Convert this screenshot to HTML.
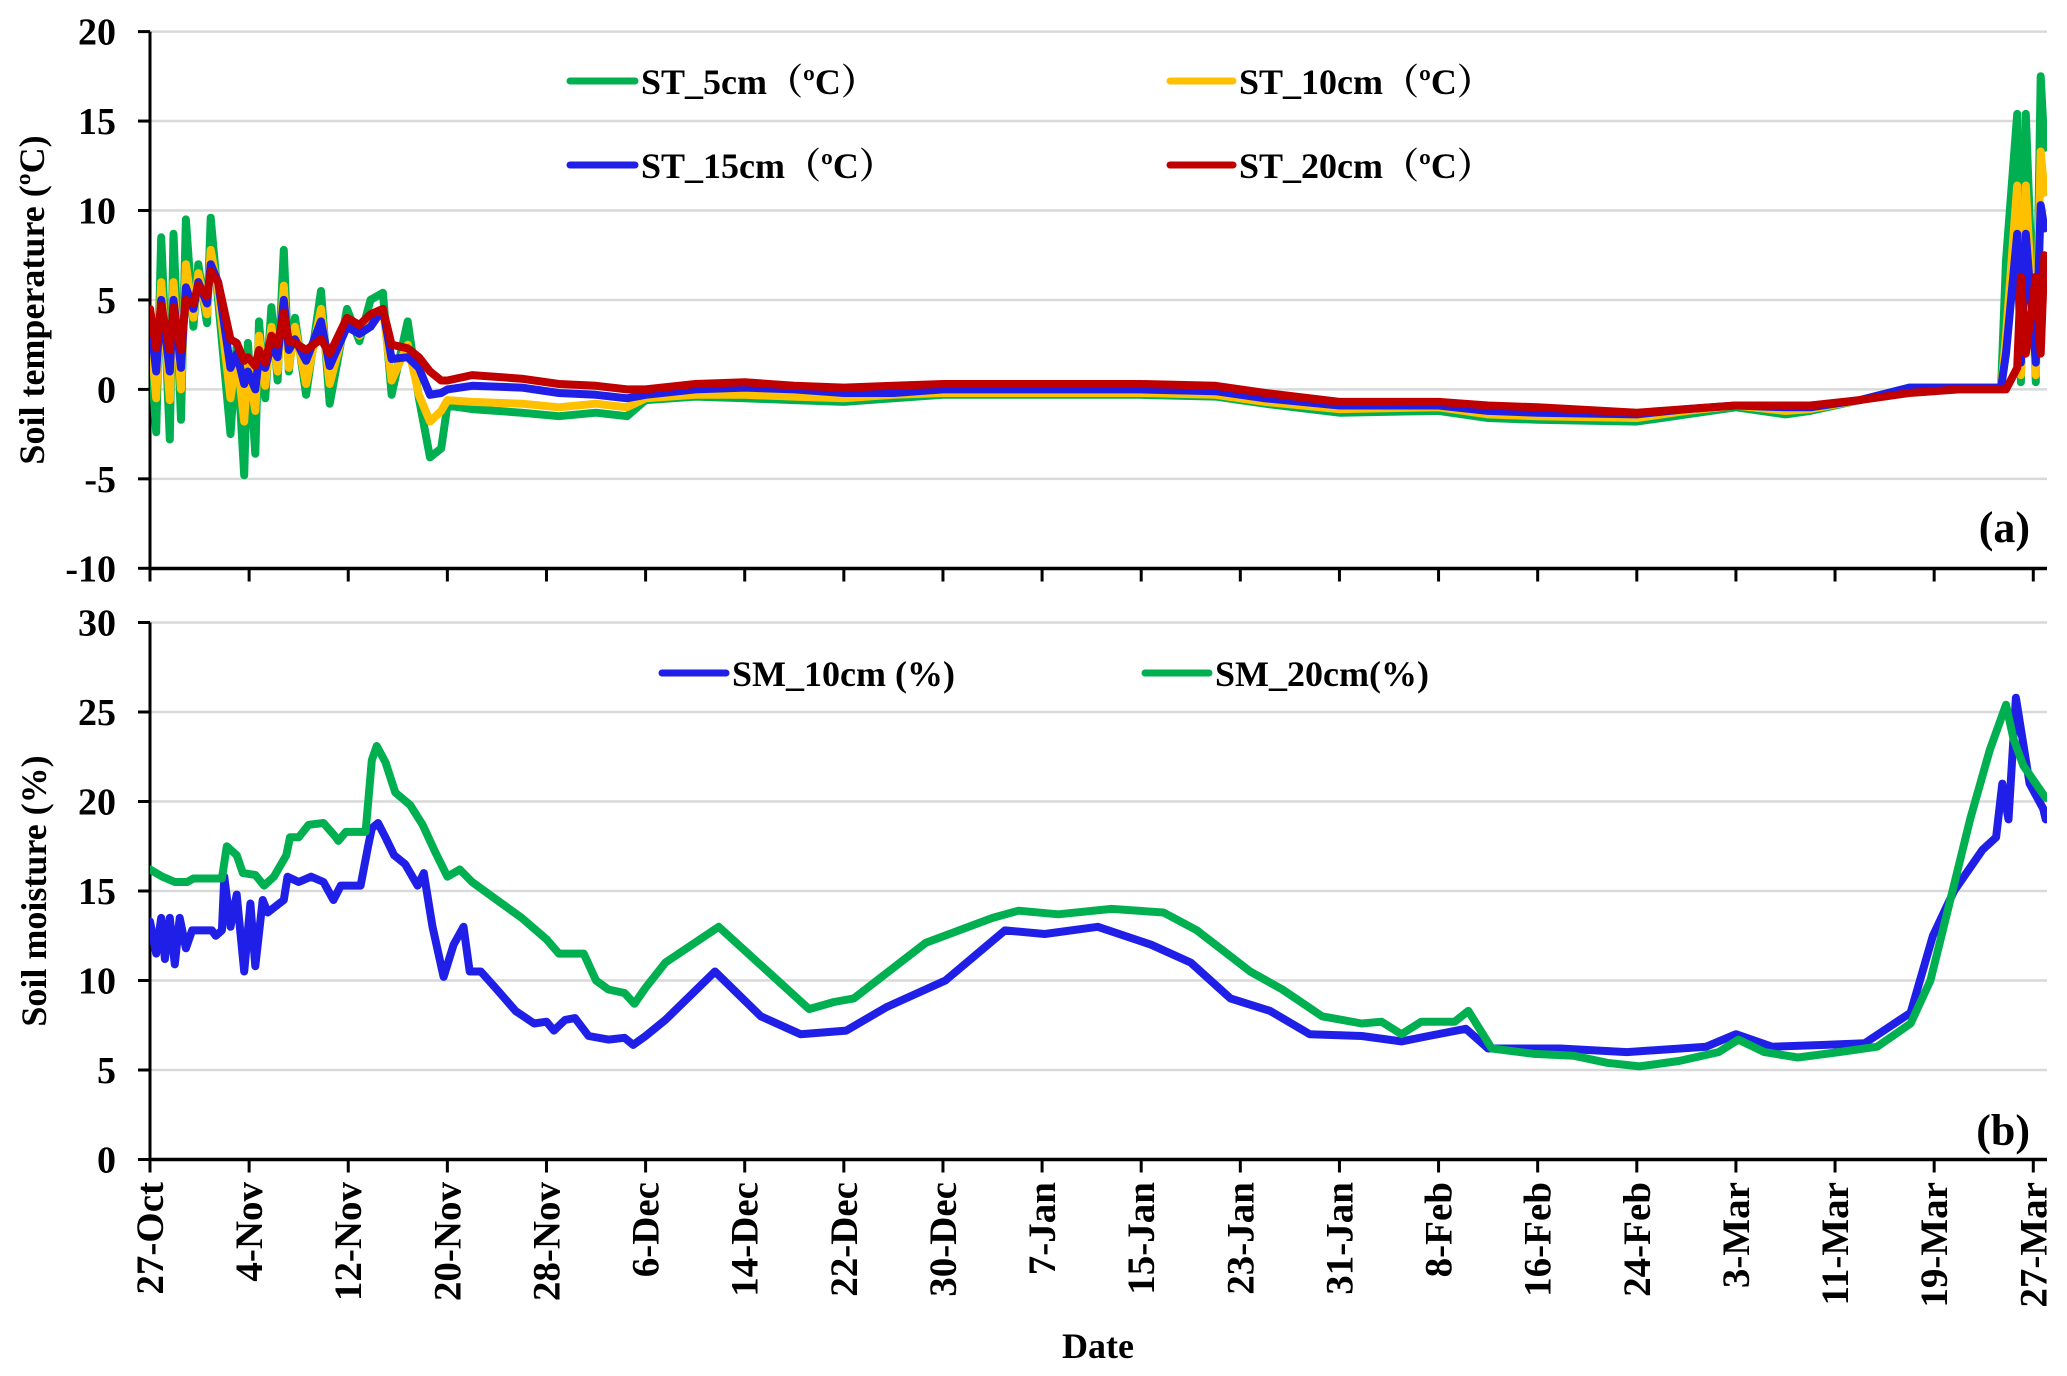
<!DOCTYPE html>
<html><head><meta charset="utf-8">
<style>
html,body{margin:0;padding:0;background:#fff;}
svg{display:block;font-family:"Liberation Serif","Noto Serif CJK SC",serif;font-weight:bold;}
</style></head>
<body>
<svg id="chart" width="2067" height="1376" viewBox="0 0 2067 1376" xmlns="http://www.w3.org/2000/svg">
<defs>
<clipPath id="clipA"><rect x="150" y="20" width="1897" height="549"/></clipPath>
<clipPath id="clipB"><rect x="150" y="600" width="1897" height="560"/></clipPath>
</defs>
<g id="gA"></g>
<g id="gB"></g>
</svg>
<script>
const tickLabels = ["27-Oct","4-Nov","12-Nov","20-Nov","28-Nov","6-Dec","14-Dec","22-Dec","30-Dec","7-Jan","15-Jan","23-Jan","31-Jan","8-Feb","16-Feb","24-Feb","3-Mar","11-Mar","19-Mar","27-Mar"];
const tempTicks = [20,15,10,5,0,-5,-10];
const moistTicks = [30,25,20,15,10,5,0];
const tempDays = [0,0.5,0.9,1.6,1.9,2.5,2.9,3.5,3.9,4.6,4.9,5.5,6.5,7,7.6,7.9,8.5,8.8,9.3,9.8,10.3,10.8,11.2,11.7,12.6,13.8,14.5,15.9,16.9,17.8,18.8,19.5,20.8,21.7,22.6,23.5,24,26,30,33,36,38.5,40,44,48,52,56,60,64,72,80,86,90,96,104,108,112,120,124,128,132,134,138,142,146,149.4,149.8,150.7,151,151.4,152.2,152.6,152.9];
const st5 = [3,-2.4,8.5,-2.8,8.7,-1.7,9.5,3.5,7,3.7,9.6,5,-2.5,2.5,-4.8,2.6,-3.6,3.8,-0.5,4.6,0.5,7.8,1,4,-0.3,5.5,-0.8,4.5,2.7,5,5.4,-0.3,3.8,-0.5,-3.8,-3.3,-0.9,-1.1,-1.3,-1.5,-1.3,-1.5,-0.6,-0.4,-0.5,-0.6,-0.7,-0.5,-0.3,-0.3,-0.3,-0.4,-0.8,-1.3,-1.2,-1.6,-1.7,-1.8,-1.4,-1.0,-1.4,-1.2,-0.6,0.1,0.1,0.1,7.2,15.4,0.4,15.4,0.4,17.5,13.5];
const st10 = [3.5,-0.5,6,-0.6,6,0,7,4,6.5,4.2,7.8,5.5,-0.5,2,-1.8,1.5,-1.2,3,0.2,3.5,1,5.8,1.2,3.5,0.3,4.5,0.3,4,3,4.2,4.5,0.5,2.5,-0.3,-1.8,-1.2,-0.6,-0.7,-0.8,-1.0,-0.8,-1.0,-0.5,-0.3,-0.3,-0.4,-0.5,-0.3,-0.2,-0.2,-0.2,-0.3,-0.7,-1.1,-1.0,-1.4,-1.5,-1.6,-1.2,-0.9,-1.2,-1.1,-0.6,0.0,0.0,0.0,3.0,11.4,0.8,11.4,0.8,13.3,11];
const st15 = [4,1,5,1,5,1.2,5.7,4.5,6,4.8,7,6,1.2,2,0.3,1,0,1.8,1.2,2.5,1.8,5,2.2,2.8,1.6,3.8,1.3,3.5,3.1,3.5,4.5,1.7,1.8,1.2,-0.3,-0.2,0,0.2,0.1,-0.2,-0.3,-0.5,-0.3,0,0.1,0,-0.2,-0.2,0,0,0,-0.1,-0.5,-0.9,-0.9,-1.2,-1.3,-1.4,-1.1,-0.9,-1.0,-1.0,-0.6,0.1,0.1,0.1,2,8.7,1.5,8.7,1.5,10.3,9];
const st20 = [4.5,2.3,4.7,2.2,4.6,2.2,5,4.8,5.8,5.2,6.6,6,2.8,2.6,1.6,1.8,1.3,2.2,1.5,3,2.5,4.3,2.7,2.6,2.2,2.8,2.0,4,3.6,4.2,4.5,2.5,2.3,1.8,1.0,0.5,0.5,0.8,0.6,0.3,0.2,0,0,0.3,0.4,0.2,0.1,0.2,0.3,0.3,0.3,0.2,-0.2,-0.7,-0.7,-0.9,-1.0,-1.3,-1.1,-0.9,-0.9,-0.9,-0.6,-0.2,0,0,0,1.2,6.3,2,6.3,2,7.5];
const sm20Days = [0,1,2,3,3.5,5.8,6.2,7,7.5,8.5,9.2,10,11,11.3,12,12.8,14,15,15.2,15.8,17,17.4,17.9,18.3,19,19.8,21,22,23,24,25,26,28,30,32,33,35,36,37,38.3,39.1,40,41.6,45.9,53.2,55.2,56.8,62.6,68,70.1,73.3,77.6,81.8,84.5,88.8,91.4,94.6,97.8,99.4,101,102.6,105.3,106.4,108.3,111.7,114.9,117.6,120.2,123.4,126.6,128.2,130.3,133,136.3,139.4,142.1,143.7,145.3,146.9,148.5,149.8,150.4,151.2,152.2,153];
const sm20 = [16.2,15.8,15.5,15.5,15.7,15.7,17.5,17,16,15.9,15.3,15.8,17,18,18,18.7,18.8,18,17.8,18.3,18.3,18.3,22.3,23.1,22.2,20.5,19.8,18.7,17.2,15.8,16.2,15.5,14.5,13.5,12.3,11.5,11.5,10,9.5,9.3,8.7,9.6,11,13,8.4,8.8,9,12.1,13.5,13.9,13.7,14,13.8,12.8,10.5,9.5,8,7.6,7.7,7,7.7,7.7,8.3,6.2,5.9,5.8,5.4,5.2,5.5,6,6.7,6,5.7,6,6.3,7.6,10,14.5,19,22.9,25.4,23.5,22,21,20.2];
const sm10Days = [0,0.5,0.9,1.2,1.6,2,2.4,2.9,3.4,5,5.3,5.8,6,6.5,7,7.6,8.1,8.5,9.1,9.5,10.8,11.1,12,13,14,14.8,15.4,17,17.6,17.9,18.4,19,19.7,20.6,21.6,22.1,22.8,23.7,24.5,25.3,25.8,26.7,28,29.5,31,32,32.6,33.5,34.3,35.4,37,38.3,39,40,41.6,45.6,49.3,52.5,56.2,59.4,64.2,69,72.2,76.5,80.8,84,87.2,90.4,93.6,97.8,101,103.2,106.2,108,113.8,119.2,125.6,128,130.9,135.2,138.4,142.1,143.9,145.6,147.9,149,149.5,150,150.6,151.7,152.8,153];
const sm10 = [13.3,11.5,13.5,11.2,13.5,10.9,13.5,11.8,12.8,12.8,12.5,12.8,15.8,13,14.8,10.5,14.3,10.8,14.5,13.8,14.5,15.8,15.5,15.8,15.5,14.5,15.3,15.3,17.5,18.5,18.8,18,17,16.5,15.3,16,13,10.2,12,13,10.5,10.5,9.5,8.3,7.6,7.7,7.2,7.8,7.9,6.9,6.7,6.8,6.4,6.9,7.8,10.5,8,7,7.2,8.5,10,12.8,12.6,13,12,11,9,8.3,7,6.9,6.6,6.9,7.3,6.2,6.2,6.0,6.3,7,6.3,6.4,6.5,8.2,12.5,15,17.3,18,21,19,25.8,21,19.6,19];

const NS="http://www.w3.org/2000/svg";
const X0=150, XEND=2047, PXDAY=12.39;
const xs = d => X0 + d*PXDAY;
const yA = v => 389.4 - v*17.89;
const yB = v => 1159.5 - v*17.9;
function el(tag, attrs, parent, text){const e=document.createElementNS(NS,tag);for(const k in attrs)e.setAttribute(k,attrs[k]);if(text!==undefined)e.textContent=text;parent.appendChild(e);return e;}
const gA=document.getElementById('gA'), gB=document.getElementById('gB');

function panel(g, yfn, ticks, yTitle, titleX, titleY, tag, tagY, axisY){
  ticks.forEach(t=>{
    const gl=el('line',{x1:X0,x2:XEND,y1:yfn(t),y2:yfn(t),stroke:'#d9d9d9','stroke-width':2.5},g);
    
    
    const tk=el('line',{x1:X0-12,x2:X0,y1:yfn(t),y2:yfn(t),stroke:'#000','stroke-width':3},g);
    
    
    const lb=el('text',{x:116,y:yfn(t)+13,'text-anchor':'end','font-size':38},g,String(t));
    
    
  });
  const ax=el('line',{x1:X0,x2:X0,y1:yfn(ticks[0]),y2:axisY,stroke:'#000','stroke-width':3},g);
  
  
  const bx=el('line',{x1:X0-1,x2:XEND,y1:axisY,y2:axisY,stroke:'#000','stroke-width':3.5},g);
  
  
  tickLabels.forEach((l,i)=>{
    const x=xs(i*8);
    const t=el('line',{x1:x,x2:x,y1:axisY,y2:axisY+13,stroke:'#000','stroke-width':3},g);
    
    
  });
  const yt=el('text',{x:titleX,y:titleY,'text-anchor':'middle','font-size':36,transform:`rotate(-90 ${titleX} ${titleY})`},g,yTitle);
  
  
  const pt=el('text',{x:2030,y:tagY,'text-anchor':'end','font-size':44},g,tag);
  
  
}
panel(gA,yA,tempTicks,'Soil temperature (ºC)',44,300,'(a)',542,568.5);
panel(gB,yB,moistTicks,'Soil moisture (%)',46,891,'(b)',1145,1159.5);

tickLabels.forEach((l,i)=>{
  const x=xs(i*8)+13, y=1182;
  const t=el('text',{x:x,y:y,'text-anchor':'end','font-size':39,transform:`rotate(-90 ${x} ${y})`},gB,l);
  
  
});
const dt=el('text',{x:1098,y:1358,'text-anchor':'middle','font-size':36},gB,'Date');



function series(g, days, vals, yfn, color, clip, name){
  const d=days.map((dd,i)=>(i?'L':'M')+xs(dd).toFixed(1)+' '+yfn(vals[i]).toFixed(1)).join(' ');
  const p=el('path',{d:d,fill:'none',stroke:color,'stroke-width':8,'stroke-linejoin':'round','stroke-linecap':'round','clip-path':`url(#${clip})`},g);
  
  
}
series(gA,tempDays,st5,yA,'#00b050','clipA','st-5cm-line');
series(gA,tempDays,st10,yA,'#ffc000','clipA','st-10cm-line');
series(gA,tempDays,st15,yA,'#1f1fe8','clipA','st-15cm-line');
series(gA,tempDays,st20,yA,'#c00000','clipA','st-20cm-line');
series(gB,sm10Days,sm10,yB,'#1f1fe8','clipB','sm-10cm-line');
series(gB,sm20Days,sm20,yB,'#00b050','clipB','sm-20cm-line');

function legend(g,x1,x2,y,color,label,name){
  const lg=el('g',{},g);
  
  
  el('line',{x1:x1,x2:x2,y1:y,y2:y,stroke:color,'stroke-width':7,'stroke-linecap':'round'},lg);
  el('text',{x:x2+6,y:y+13,'font-size':36},lg,label);
}
legend(gA,570,635,81,'#00b050','ST_5cm（ºC）','legend-st-5cm');
legend(gA,1170,1233,81,'#ffc000','ST_10cm（ºC）','legend-st-10cm');
legend(gA,570,635,165,'#1f1fe8','ST_15cm（ºC）','legend-st-15cm');
legend(gA,1170,1233,165,'#c00000','ST_20cm（ºC）','legend-st-20cm');
legend(gB,662,726,673,'#1f1fe8','SM_10cm (%)','legend-sm-10cm');
legend(gB,1145,1209,673,'#00b050','SM_20cm(%)','legend-sm-20cm');
</script>
</body></html>
